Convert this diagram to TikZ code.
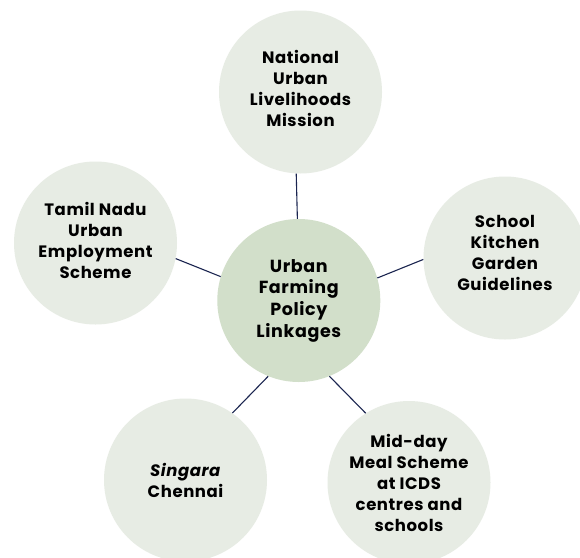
\documentclass[tikz,border=0pt]{standalone}
\usepackage{fontspec}
\setmainfont{Poppins}[LetterSpace=3.5]
\definecolor{outerfill}{HTML}{E7ECE4}
\definecolor{hubfill}{HTML}{D2DFCA}
\definecolor{linkline}{HTML}{1B2550}
\begin{document}
\begin{tikzpicture}[x=1pt,y=-1pt,
  policy/.style={circle,fill=outerfill,minimum size=163pt,inner sep=0pt,
    align=center,font=\fontsize{16.5}{21}\selectfont\bfseries},
  hub/.style={circle,fill=hubfill,minimum size=163pt,inner sep=0pt,
    align=center,font=\fontsize{17.5}{21.7}\selectfont\bfseries},
  link/.style={draw=linkline,line width=1.1pt}]
\useasboundingbox (0,0) rectangle (580,557);
\fill[white] (0,0) rectangle (580,557);

% hub and the five linked schemes (extra text depth lifts the label a little)
\node[hub] (hub) at (298.8,300.5) {Urban\\Farming\\Policy\\Linkages};
\node[policy,text depth=8pt] (nulm) at (300.5,92) {National\\Urban\\Livelihoods\\Mission};
\node[policy,text depth=6pt] (tnues) at (95.5,243) {Tamil Nadu\\Urban\\Employment\\Scheme};
\node[policy,text depth=10pt] (skg) at (505,258) {School\\Kitchen\\Garden\\Guidelines};
\node[policy] (sc) at (185.5,480) {\textit{Singara}\\Chennai};
\node[policy] (mdm) at (409,482.5) {Mid-day\\Meal Scheme\\at ICDS\\centres and\\schools};

% spokes
\draw[link] (nulm.267.5) -- (hub.91.3);
\draw[link] (tnues.-11) -- (hub.163.4);
\draw[link] (skg.181) -- (hub.16);
\draw[link] (sc.55.6) -- (hub.248);
\draw[link] (mdm.122) -- (hub.-68.5);
\end{tikzpicture}
\end{document}
